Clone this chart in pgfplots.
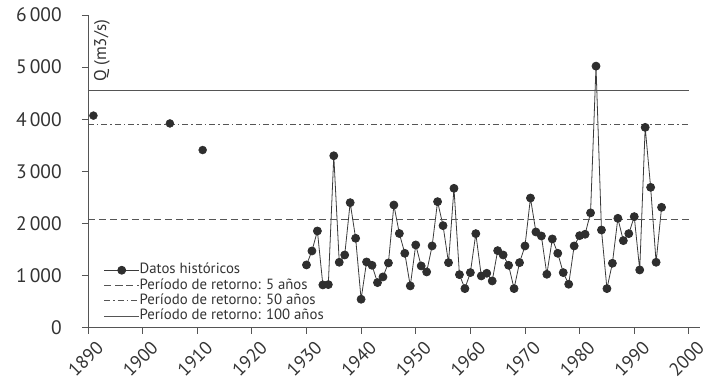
\documentclass[border=0pt]{standalone}
\usepackage{fontspec}
\setmainfont{PT Sans}
\usepackage{pgfplots}
\pgfplotsset{compat=1.18}
\definecolor{lc}{HTML}{3A3A3A}
\definecolor{hl}{HTML}{555555}
\definecolor{mk}{HTML}{2E2E2E}
\definecolor{tx}{HTML}{333333}
\begin{document}
\begin{tikzpicture}
\begin{axis}[
  scale only axis, width=612pt, height=313pt,
  xmin=1890, xmax=2002, ymin=0, ymax=6000,
  axis x line=bottom, axis y line=left,
  axis line style={-, draw=hl, line width=0.9pt},
  xtick={1890,1900,...,2000}, ytick={0,1000,...,6000},
  tick align=outside, major tick length=6pt,
  tick style={draw=hl, line width=0.9pt},
  clip=false,
  /pgf/number format/assume math mode=true,
  /pgf/number format/1000 sep={\,},
  yticklabel style={font=\fontsize{19.5}{21}\selectfont, text=tx, anchor=east, inner sep=0pt, xshift=-20pt},
  xticklabel style={/pgf/number format/1000 sep={}, font=\fontsize{18.5}{20}\selectfont, text=tx, rotate=45, anchor=east, inner sep=0pt, xshift=1pt, yshift=-16pt},
  legend style={draw=none, fill=none, at={(axis cs:1892.9,96)}, anchor=south west,
    font=\fontsize{14.8}{16}\selectfont, text=tx, inner sep=0pt, outer sep=0pt,
    nodes={inner sep=0pt, text height=10.5pt, text depth=3pt}, row sep=1.8pt},
  legend cell align=left,
  legend image code/.code={\draw[mark repeat=2,mark phase=2,#1] plot coordinates {(0pt,0pt)(17.5pt,0pt)(35pt,0pt)};},
  /tikz/every even column/.append style={column sep=11pt},
]
\path (axis cs:1873.9,6287) rectangle (axis cs:2003.5,-1073);
\addplot[lc, line width=0.8pt, mark=*, mark size=4pt, mark options={fill=mk, draw=mk, solid}] coordinates {
(1930,1207) (1931,1475) (1932,1858) (1933,824) (1934,830) (1935,3300) (1936,1258) (1937,1398)
(1938,2401) (1939,1718) (1940,549) (1941,1264) (1942,1200) (1943,868) (1944,977) (1945,1245)
(1946,2356) (1947,1810) (1948,1430) (1949,805) (1950,1590) (1951,1188) (1952,1073) (1953,1571)
(1954,2420) (1955,1960) (1956,1251) (1957,2676) (1958,1021) (1959,753) (1960,1060) (1961,1807)
(1962,996) (1963,1047) (1964,900) (1965,1481) (1966,1398) (1967,1200) (1968,753) (1969,1251)
(1970,1571) (1971,2490) (1972,1839) (1973,1762) (1974,1028) (1975,1705) (1976,1430) (1977,1060)
(1978,837) (1979,1571) (1980,1768) (1981,1795) (1982,2205) (1983,5019) (1984,1877) (1985,753)
(1986,1239) (1987,2101) (1988,1673) (1989,1807) (1990,2133) (1991,1111) (1992,3845) (1993,2695)
(1994,1258) (1995,2312)
};
\addlegendentry{Datos históricos}
\addplot[hl, line width=0.9pt, dash pattern=on 7pt off 4pt] coordinates {(1890,2070) (2000,2070)};
\addlegendentry{Período de retorno: 5 años}
\addplot[hl, line width=0.9pt, dash pattern=on 6pt off 3pt on 1.5pt off 3pt] coordinates {(1890,3900) (2000,3900)};
\addlegendentry{Período de retorno: 50 años}
\addplot[hl, line width=0.9pt] coordinates {(1890,4550) (2000,4550)};
\addlegendentry{Período de retorno: 100 años}
\addplot[only marks, mark=*, mark size=4pt, mark options={fill=mk, draw=mk}, forget plot] coordinates {
(1891,4070) (1905,3920) (1911,3410)
};
\node[rotate=90, anchor=west, inner sep=0pt, font=\fontsize{17}{19}\selectfont, text=tx] at (axis cs:1892.56,4715) {Q (m3/s)};
\end{axis}
\end{tikzpicture}
\end{document}
